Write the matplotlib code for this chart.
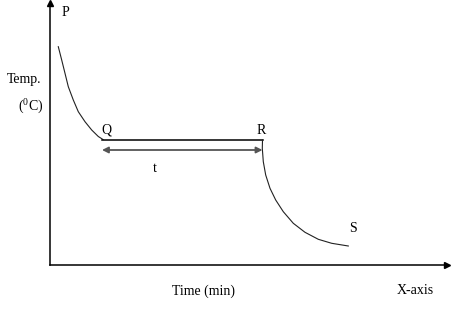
import matplotlib.pyplot as plt

plt.rcParams['font.family'] = ['Liberation Serif', 'DejaVu Serif']
plt.rcParams['mathtext.fontset'] = 'custom'
plt.rcParams['mathtext.rm'] = 'Liberation Serif'

# cooling curve P -> Q (liquid cooling)
pq_time = [8.3, 11.7, 15, 18.3, 23.3, 28.3, 35, 41.7, 48.3, 53]
pq_temp = [218.3, 205, 191.7, 178.3, 165, 153.3, 143.3, 135, 128.5, 125.5]

# plateau Q -> R (phase change)
qr_time = [52, 212.5]
qr_temp = [125, 125]

# cooling curve R -> S (solid cooling)
rs_time = [212.5, 212.3, 213.3, 215.7, 220, 225.7, 233.3, 243.3, 255, 268.3, 281.7, 298.3]
rs_temp = [125, 116.7, 103.3, 90, 76.7, 65, 53.3, 41.7, 32.7, 25.7, 21.7, 19]

fig = plt.figure(figsize=(4.57, 3.15), dpi=100)
ax = fig.add_axes([50 / 457, 50 / 315, 397 / 457, 262 / 315])
ax.set_xlim(0, 397)
ax.set_ylim(0, 262)

# Axes: only left/bottom spines with arrow heads
for side in ('top', 'right'):
    ax.spines[side].set_visible(False)
for side in ('left', 'bottom'):
    ax.spines[side].set_linewidth(1.1)
ax.set_xticks([])
ax.set_yticks([])
ax.plot(1, 0, '>k', ms=5, transform=ax.get_yaxis_transform(), clip_on=False)
ax.plot(0, 1, '^k', ms=5, transform=ax.get_xaxis_transform(), clip_on=False)

# Curves
ax.plot(pq_time, pq_temp, color='#222222', lw=0.8)
ax.plot(qr_time, qr_temp, color='black', lw=1.1)
ax.plot(rs_time, rs_temp, color='#222222', lw=0.8)

# Duration arrow t
ax.annotate('', xy=(qr_time[0], qr_temp[0] - 10), xytext=(qr_time[1], qr_temp[1] - 10),
            arrowprops=dict(arrowstyle='<|-|>', color='#555555', lw=1.3,
                            mutation_scale=9, shrinkA=0, shrinkB=0))

fs = 10
ax.text(15, 252, 'P', fontsize=fs, ha='center', va='center')
ax.text(56, 135, 'Q', fontsize=fs, ha='center', va='center')
ax.text(211, 135, 'R', fontsize=fs, ha='center', va='center')
ax.text(303, 36, 'S', fontsize=fs, ha='center', va='center')
ax.text(105, 97, 't', fontsize=fs, ha='center', va='center')

ax.text(-26, 185, 'Temp.', fontsize=fs, ha='center', va='center', clip_on=False)
ax.text(-19, 159, r'($^\mathrm{0}$C)', fontsize=fs, ha='center', va='center', clip_on=False)
ax.text(153, -26, 'Time (min)', fontsize=fs, ha='center', va='center', clip_on=False)
ax.text(365, -26, 'X-axis', fontsize=fs, ha='center', va='center', clip_on=False)

fig.savefig('out.png', dpi=100)
